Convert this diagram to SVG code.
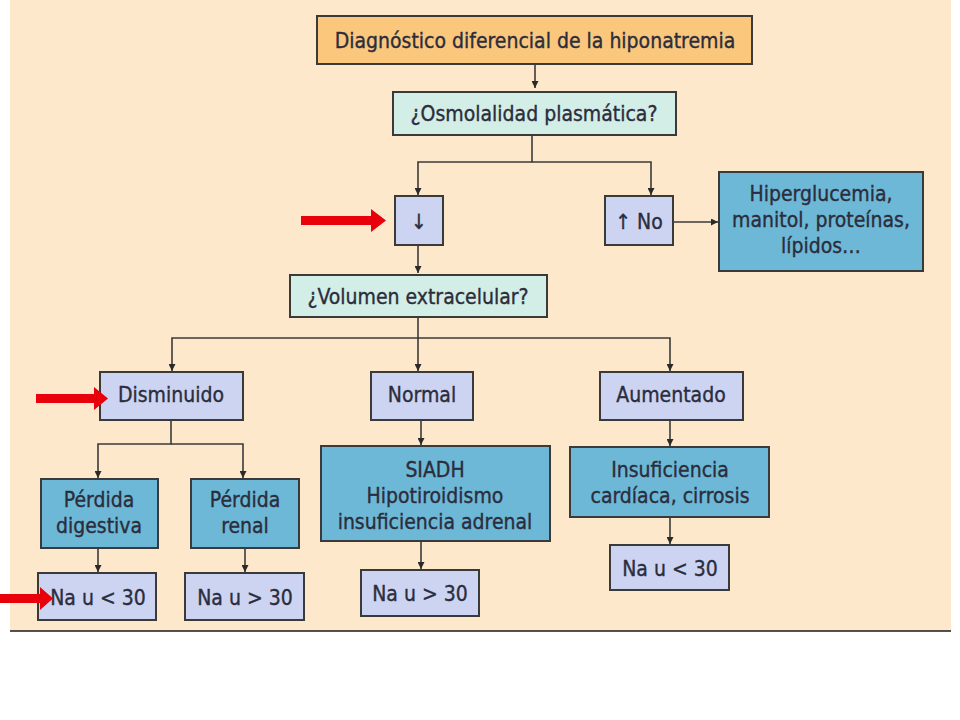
<svg xmlns="http://www.w3.org/2000/svg" width="960" height="720" viewBox="0 0 960 720">
<defs>
<style>
.bx{stroke:#3a3a3a;stroke-width:2}
.title{fill:#FBC77C}
.q{fill:#D3EEE6}
.lav{fill:#CDD4F2}
.blue{fill:#6DB8D6}
text{font-family:"Liberation Sans Narrow","DejaVu Sans Condensed","Liberation Sans",sans-serif;font-size:21px;fill:#2b2d3c;stroke:#2b2d3c;stroke-width:0.35;text-anchor:middle}
.ln{fill:none;stroke:#3a3a3a;stroke-width:1.6}
.red{fill:#E8000B}
</style>
<marker id="ah" viewBox="0 0 10 10" refX="10" refY="5" markerWidth="7" markerHeight="7" orient="auto" markerUnits="userSpaceOnUse">
<path d="M0,0 L10,5 L0,10 z" fill="#2a2a2a"/>
</marker>
</defs>
<rect x="0" y="0" width="960" height="720" fill="#ffffff"/>
<rect x="10" y="0" width="941" height="631" fill="#FDE8CB"/>
<line x1="10" y1="631" x2="951" y2="631" stroke="#1a1a1a" stroke-width="1.5"/>

<g id="connectors">
<path class="ln" d="M535,64 V88" marker-end="url(#ah)"/>
<path class="ln" d="M532,135 V162 H418 V195" marker-end="url(#ah)"/>
<path class="ln" d="M532,162 H651 V195" marker-end="url(#ah)"/>
<path class="ln" d="M673,222 H718" marker-end="url(#ah)"/>
<path class="ln" d="M418,245 V273" marker-end="url(#ah)"/>
<path class="ln" d="M418,317 V338 H172 V371" marker-end="url(#ah)"/>
<path class="ln" d="M418,338 V371" marker-end="url(#ah)"/>
<path class="ln" d="M418,338 H670 V371" marker-end="url(#ah)"/>
<path class="ln" d="M171,420 V444 H98 V478" marker-end="url(#ah)"/>
<path class="ln" d="M171,444 H243 V478" marker-end="url(#ah)"/>
<path class="ln" d="M98,548 V572" marker-end="url(#ah)"/>
<path class="ln" d="M245,548 V572" marker-end="url(#ah)"/>
<path class="ln" d="M421,420 V445" marker-end="url(#ah)"/>
<path class="ln" d="M421,541 V569" marker-end="url(#ah)"/>
<path class="ln" d="M670,420 V446" marker-end="url(#ah)"/>
<path class="ln" d="M670,517 V544" marker-end="url(#ah)"/>
</g>

<g id="n-title"><rect class="bx title" x="317" y="16" width="435" height="48"/><text x="535" y="48">Diagnóstico diferencial de la hiponatremia</text></g>
<g id="n-osm"><rect class="bx q" x="393" y="92" width="283" height="43"/><text x="534" y="121">¿Osmolalidad plasmática?</text></g>
<g id="n-down"><rect class="bx lav" x="395" y="196" width="48" height="49"/><text x="419" y="229">↓</text></g>
<g id="n-up"><rect class="bx lav" x="605" y="196" width="68" height="49"/><text x="639" y="229">↑ No</text></g>
<g id="n-hiper"><rect class="bx blue" x="719" y="172" width="204" height="99"/><text x="821" y="201">Hiperglucemia,</text><text x="821" y="227">manitol, proteínas,</text><text x="821" y="253">lípidos…</text></g>
<g id="n-vol"><rect class="bx q" x="290" y="275" width="257" height="42"/><text x="418" y="304">¿Volumen extracelular?</text></g>
<g id="n-dism"><rect class="bx lav" x="100" y="372" width="143" height="48"/><text x="171" y="402">Disminuido</text></g>
<g id="n-norm"><rect class="bx lav" x="371" y="372" width="102" height="48"/><text x="422" y="402">Normal</text></g>
<g id="n-aum"><rect class="bx lav" x="600" y="372" width="143" height="48"/><text x="671" y="402">Aumentado</text></g>
<g id="n-pdig"><rect class="bx blue" x="41" y="479" width="117" height="69"/><text x="99" y="507">Pérdida</text><text x="99" y="533">digestiva</text></g>
<g id="n-pren"><rect class="bx blue" x="191" y="479" width="108" height="69"/><text x="245" y="507">Pérdida</text><text x="245" y="533">renal</text></g>
<g id="n-siadh"><rect class="bx blue" x="321" y="446" width="229" height="95"/><text x="435" y="477">SIADH</text><text x="435" y="503">Hipotiroidismo</text><text x="435" y="529">insuficiencia adrenal</text></g>
<g id="n-insuf"><rect class="bx blue" x="570" y="447" width="199" height="70"/><text x="670" y="477">Insuficiencia</text><text x="670" y="503">cardíaca, cirrosis</text></g>
<g id="n-na1"><rect class="bx lav" x="38" y="573" width="118" height="47"/><text x="98" y="605">Na u &lt; 30</text></g>
<g id="n-na2"><rect class="bx lav" x="185" y="573" width="119" height="47"/><text x="245" y="605">Na u &gt; 30</text></g>
<g id="n-na3"><rect class="bx lav" x="361" y="570" width="118" height="46"/><text x="420" y="601">Na u &gt; 30</text></g>
<g id="n-na4"><rect class="bx lav" x="610" y="545" width="119" height="45"/><text x="670" y="576">Na u &lt; 30</text></g>

<g id="red-arrows">
<path class="red" d="M301,216 H371 V209 L386,220.5 L371,232 V225 H301 z"/>
<path class="red" d="M36,394 H94 V387 L108,398.5 L94,410 V403 H36 z"/>
<path class="red" d="M0,594 H40 V587 L53,598.5 L40,610 V603 H0 z"/>
</g>
</svg>
